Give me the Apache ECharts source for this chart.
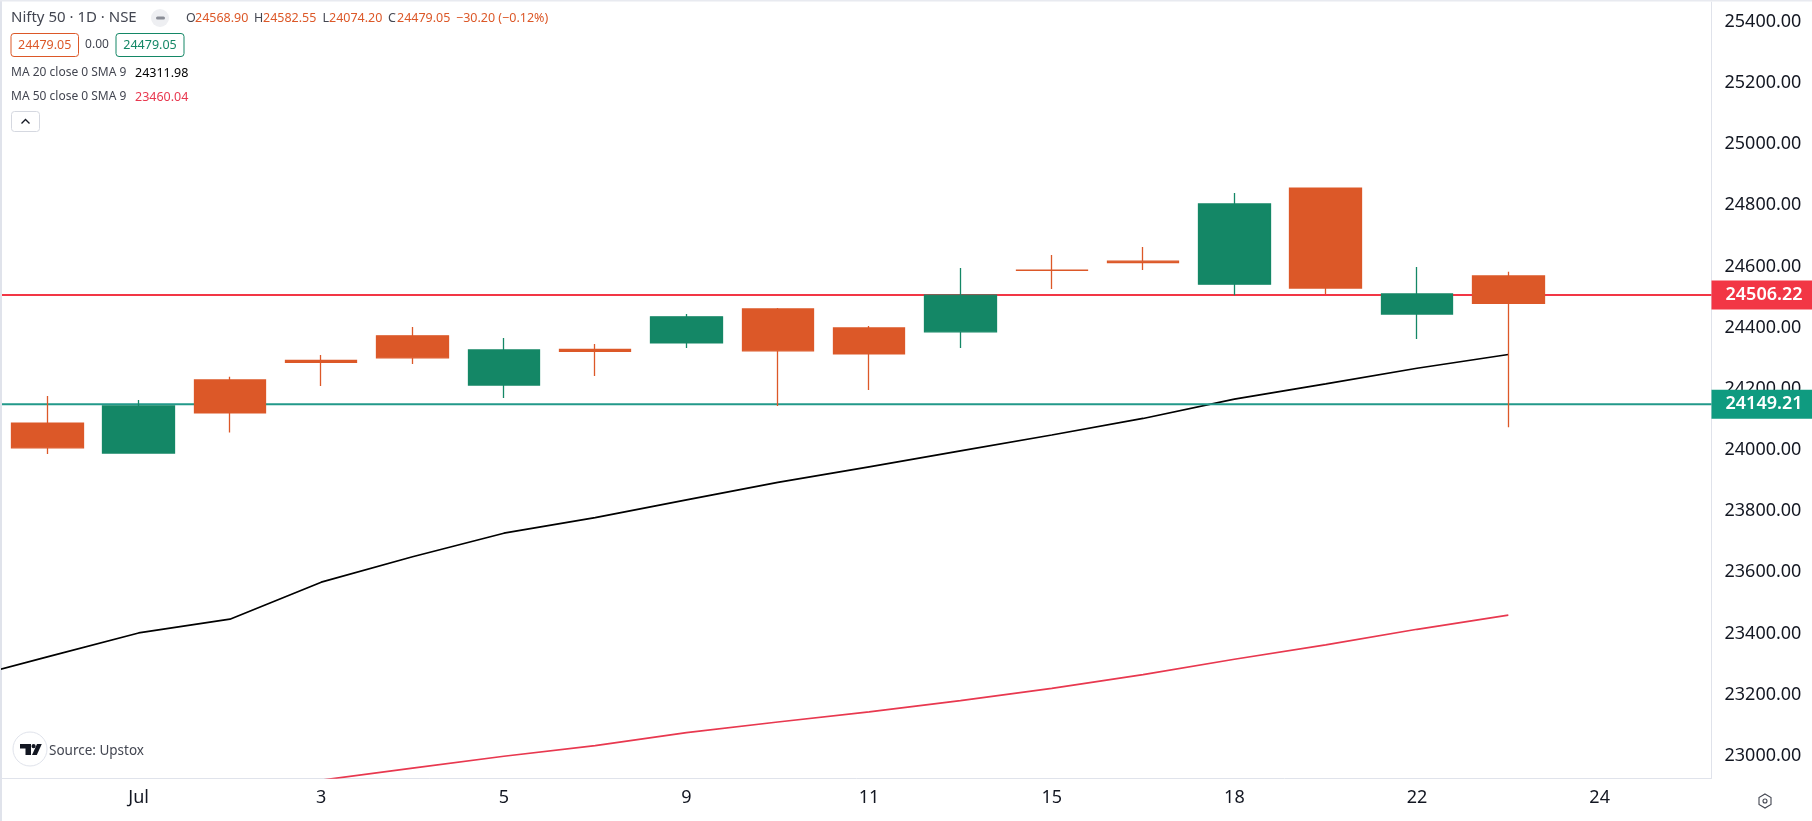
<!DOCTYPE html>
<html>
<head>
<meta charset="utf-8">
<style>html,body{margin:0;padding:0;background:#fff}#c{width:1812px;height:821px}</style>
<script src="https://cdn.jsdelivr.net/npm/echarts@6/dist/echarts.min.js"></script>
</head>
<body>
<div id="c"></div>
<script>
// session index on the x axis (0 = first candle)
const sessions = [0,1,2,3,4,5,6,7,8,9,10,11,12,13,14,15,16];
const opens  = [24088,23990,24229,24293,24373,24212,24329,24350,24461,24399,24386,24587.5,24617,24542,24856,24444,24568.90];
const closes = [24007,24144,24121,24286,24301,24327,24322,24435,24324,24314,24506,24587,24612,24804,24529,24510,24479.05];
const lows   = [23987,23990,24057,24209,24281,24170,24242,24333,24144,24196,24333,24526,24588,24506,24510,24363,24074.20];
const highs  = [24176,24163,24239,24310,24402,24366,24346,24444,24464,24405,24595,24637,24663,24840,24856,24598,24582.55];
const ma20Index = [-1,0,1,2,3,4,5,6,7,8,9,10,11,12,13,14,15,16];
const ma20 = [23245,23324,23402,23447,23568,23651,23728,23779,23837,23894,23945,23997,24049,24103,24166,24216,24267,24311.98];
const ma50Index = [3,4,5,6,7,8,9,10,11,12,13,14,15,16];
const ma50 = [22921,22960,22999,23034,23076,23111,23144,23181,23221,23266,23316,23363,23414,23460.04];
const xTickIndex = [1,3,5,7,9,11,13,15,17];
const xTickLabels = ['Jul','3','5','9','11','15','18','22','24'];
const yTicks = [23000,23200,23400,23600,23800,24000,24200,24400,24600,24800,25000,25200,25400];
const resistance = 24506.22;
const support = 24149.21;

const UP = '#148766', DOWN = '#DC5828', RED = '#F23645', TEAL = '#22998A', BLACK = '#131722', DIM = '#434651';
const FONT = '"Noto Sans", sans-serif';
const X_MIN = -0.496, X_MAX = 18.225;

const txt = (x, y, s, fill, size, extra) => ({
  type: 'text', x, y, z: 20,
  style: Object.assign({text: s, fill, font: (size||12.5) + 'px ' + FONT, textVerticalAlign: 'middle'}, extra||{})
});
const box = (x, y, w, h, stroke) => ({
  type: 'rect', z: 20, shape: {x, y, width: w, height: h, r: 3},
  style: {fill: '#fff', stroke, lineWidth: 1}
});

const priceLine = (value, color, tag, z) => ({
  type: 'line', z, silent: true, symbol: 'none', clip: false,
  data: [[X_MIN, value], [X_MAX, value]],
  lineStyle: {color, width: 2},
  endLabel: {
    show: true, formatter: () => value.toFixed(2), distance: 0,
    backgroundColor: tag, color: '#fff', fontFamily: FONT, fontSize: 18, fontWeight: 600,
    width: 87, height: 29, lineHeight: 29, align: 'left', padding: [0, 0, 0, 14]
  }
});

const option = {
  animation: false,
  backgroundColor: '#fff',
  grid: {left: 2, right: 100.5, top: 2, bottom: 43, containLabel: false},
  xAxis: {
    type: 'value', min: X_MIN, max: X_MAX, splitLine: {show: false},
    axisLine: {show: true, onZero: false, lineStyle: {color: '#E0E3EB', width: 1}},
    axisTick: {show: false},
    axisLabel: {
      customValues: xTickIndex, margin: 11, color: BLACK, fontFamily: FONT, fontSize: 18,
      formatter: v => xTickLabels[xTickIndex.indexOf(v)]
    }
  },
  yAxis: {
    type: 'value', position: 'right', min: 22928, max: 25464, splitLine: {show: false},
    axisLine: {show: true, onZero: false, lineStyle: {color: '#E0E3EB', width: 1}},
    axisTick: {show: false},
    axisLabel: {
      customValues: yTicks, margin: 13, color: BLACK, fontFamily: FONT, fontSize: 18,
      formatter: v => v.toFixed(2)
    }
  },
  series: [
    {type: 'line', z: 2, symbol: 'none', data: ma50Index.map((x,i)=>[x,ma50[i]]), lineStyle: {color: '#E8384F', width: 1.7}},
    {type: 'line', z: 2, symbol: 'none', data: ma20Index.map((x,i)=>[x,ma20[i]]), lineStyle: {color: '#000', width: 1.7}},
    priceLine(resistance, RED, '#F23645', 3),
    priceLine(support, TEAL, '#0F9B80', 3),
    {
      type: 'candlestick', z: 4, barWidth: 72,
      encode: {x: 0, y: [1,2,3,4]},
      data: sessions.map((x,i)=>[x, opens[i], closes[i], lows[i], highs[i]]),
      itemStyle: {color: UP, color0: DOWN, borderColor: UP, borderColor0: DOWN, borderWidth: 1.3}
    }
  ],
  graphic: {elements: [
    {type:'rect', z:1, shape:{x:0,y:0,width:2,height:821}, style:{fill:'#E0E3EB'}},
    {type:'rect', z:1, shape:{x:0,y:0,width:1812,height:1.5}, style:{fill:'#E8EAF0'}},
    txt(11,18,'Nifty 50 · 1D · NSE',DIM,15),
    {type:'rect', z:20, shape:{x:151,y:9,width:18,height:18,r:9}, style:{fill:'#EEEFF2'}},
    {type:'rect', z:21, shape:{x:156,y:16.5,width:9,height:3,r:1.5}, style:{fill:'#8A8D96'}},
    txt(186,18,'O',DIM), txt(195,18,'24568.90',DOWN),
    txt(254,18,'H',DIM), txt(263,18,'24582.55',DOWN),
    txt(322.5,18,'L',DIM), txt(329,18,'24074.20',DOWN),
    txt(388,18,'C',DIM), txt(397,18,'24479.05',DOWN),
    txt(456,18,'−30.20 (−0.12%)',DOWN),
    box(11,33.5,67.5,23,DOWN), txt(44.7,45,'24479.05',DOWN,12.5,{textAlign:'center'}),
    txt(97,45,'0.00',DIM,12,{textAlign:'center'}),
    box(116,33.5,68,23,UP), txt(150,45,'24479.05',UP,12.5,{textAlign:'center'}),
    txt(11,73,'MA 20 close 0 SMA 9',DIM,12), txt(135,73,'24311.98','#000',12.5),
    txt(11,97,'MA 50 close 0 SMA 9',DIM,12), txt(135,97,'23460.04','#E8384F',12.5),
    {type:'rect', z:20, shape:{x:11.5,y:111.5,width:28,height:20,r:3}, style:{fill:'#fff',stroke:'#D5D8E0',lineWidth:1}},
    {type:'polyline', z:21, shape:{points:[[21.5,123.5],[25.5,119.5],[29.5,123.5]]}, style:{stroke:BLACK,fill:null,lineWidth:1.3}},
    // watermark
    {type:'circle', z:20, shape:{cx:30,cy:749,r:17}, style:{fill:'#fff',stroke:'#E0E3EB',lineWidth:1}},
    {type:'polygon', z:21, shape:{points:[[20,744],[31,744],[31,755],[25.5,755],[25.5,748.5],[20,748.5]]}, style:{fill:'#131722'}},
    {type:'circle', z:21, shape:{cx:33.6,cy:746.2,r:2.1}, style:{fill:'#131722'}},
    {type:'polygon', z:21, shape:{points:[[37,744],[41.8,744],[36.8,755],[32,755]]}, style:{fill:'#131722'}},
    txt(49,751,'Source: Upstox',DIM,13.5),
    // settings icon
    {type:'polygon', z:20, shape:{points:[[1765,794],[1771,797.5],[1771,804.5],[1765,808],[1759,804.5],[1759,797.5]]}, style:{fill:'none',stroke:'#434651',lineWidth:1.1}},
    {type:'circle', z:20, shape:{cx:1765,cy:801,r:2}, style:{fill:'none',stroke:'#434651',lineWidth:1.1}}
  ]}
};
const chart = echarts.init(document.getElementById('c'), null, {renderer: 'canvas'});
chart.setOption(option);
</script>
</body>
</html>
